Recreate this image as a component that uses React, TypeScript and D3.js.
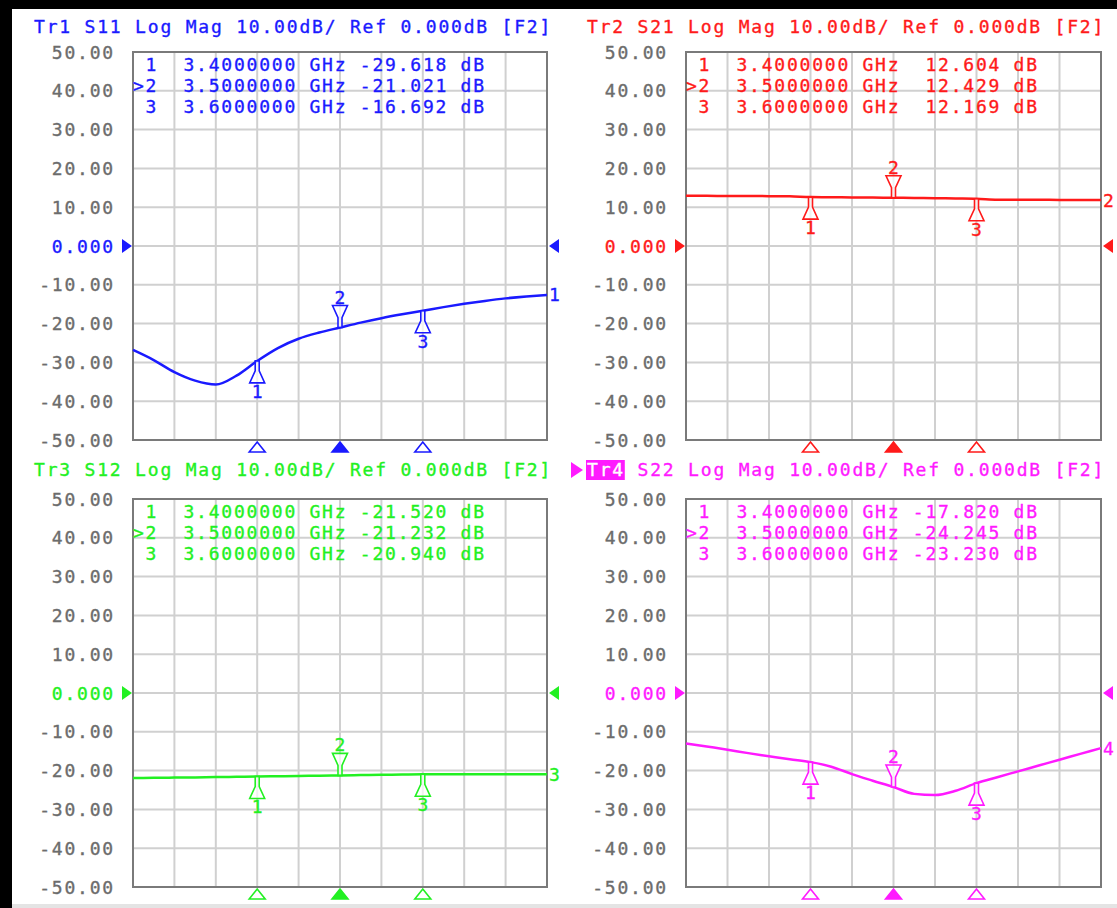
import React from 'react';
import * as d3 from 'd3';

// Sweep points (GHz) and measured traces (dB)
const FREQ_GHZ = [
  3.25, 3.275, 3.3, 3.325, 3.35, 3.375, 3.4, 3.425, 3.45, 3.475, 3.5,
  3.525, 3.55, 3.575, 3.6, 3.625, 3.65, 3.675, 3.7, 3.725, 3.75,
];
const S11_DB = [
  -26.8, -29.4, -32.5, -34.7, -35.7, -33.4, -29.618, -26.3, -23.9, -22.3, -21.021,
  -19.75, -18.6, -17.6, -16.692, -15.75, -14.9, -14.15, -13.5, -13.0, -12.6,
];
const S21_DB = [
  12.95, 12.93, 12.9, 12.88, 12.85, 12.8, 12.604, 12.56, 12.52, 12.47, 12.429,
  12.38, 12.31, 12.24, 12.169, 11.95, 11.93, 11.9, 11.88, 11.86, 11.84,
];
const S12_DB = [
  -21.9, -21.85, -21.8, -21.75, -21.68, -21.6, -21.52, -21.45, -21.38, -21.3, -21.232,
  -21.16, -21.09, -21.01, -20.94, -20.94, -20.95, -20.95, -20.95, -20.96, -20.96,
];
const S22_DB = [
  -13.0, -13.8, -14.6, -15.5, -16.3, -17.1, -17.82, -19.0, -20.9, -22.6, -24.245,
  -26.0, -26.3, -25.2, -23.23, -21.7, -20.2, -18.7, -17.2, -15.7, -14.2,
];

// Marker readouts
const MARKER_FREQ_GHZ = [3.4, 3.5, 3.6];
const S11_MARKERS = [-29.618, -21.021, -16.692];
const S21_MARKERS = [12.604, 12.429, 12.169];
const S12_MARKERS = [-21.52, -21.232, -20.94];
const S22_MARKERS = [-17.82, -24.245, -23.23];
const ACTIVE_MARKER = 2;

const Y_TICKS = [50, 40, 30, 20, 10, 0, -10, -20, -30, -40, -50];
const TRACE_NAMES = ['Tr1', 'Tr2', 'Tr3', 'Tr4'];
const PARAMS = ['S11', 'S21', 'S12', 'S22'];
const FORMAT_TEXT = 'Log Mag 10.00dB/ Ref 0.000dB [F2]';
const ACTIVE_TRACE = 'Tr4';

const SERIES = [S11_DB, S21_DB, S12_DB, S22_DB];
const MARKERS = [S11_MARKERS, S21_MARKERS, S12_MARKERS, S22_MARKERS];

// Layout and styling
const W = 1117;
const H = 908;
const FONT = '"DejaVu Sans Mono", "Liberation Mono", monospace';
const FS = 18;
const LS = 1.8;
const PITCH = 12.6;
const COLORS = ['#1a1aff', '#ff1a1a', '#22f022', '#ff1aff'];
const LABEL_GRAY = '#6c6c6c';
const GRID = '#d0d0d0';
const FRAME = '#7a7a7a';

const LAYOUT = [
  { left: 133, right: 547, top: 52, bottom: 440, headerY: 33 },
  { left: 686, right: 1101, top: 52, bottom: 440, headerY: 33 },
  { left: 133, right: 547, top: 499, bottom: 887, headerY: 476 },
  { left: 686, right: 1101, top: 499, bottom: 887, headerY: 476 },
];

const textProps = {
  fontFamily: FONT,
  fontSize: FS,
  letterSpacing: LS,
  strokeWidth: 0.35,
};

function markerPath(px: number, py: number, dir: 1 | -1) {
  const p = (dx: number, dy: number) => `${px + dx},${py + dir * dy}`;
  return `M${p(-2, 0)} L${p(-2, 10)} L${p(-7.5, 22)} L${p(7.5, 22)} L${p(2, 10)} L${p(2, 0)} Z`;
}

function Panel({ idx }: { idx: number }) {
  const L = LAYOUT[idx];
  const color = COLORS[idx];
  const values = SERIES[idx];
  const markers = MARKERS[idx];
  const name = TRACE_NAMES[idx];

  const x = d3
    .scaleLinear()
    .domain([FREQ_GHZ[0], FREQ_GHZ[FREQ_GHZ.length - 1]])
    .range([L.left, L.right]);
  const y = d3.scaleLinear().domain([-50, 50]).range([L.bottom, L.top]);

  const [f0, f1] = x.domain();
  const xGrid = d3.range(1, 10).map((i) => f0 + ((f1 - f0) * i) / 10);

  const line = d3
    .line<number>()
    .x((_, i) => x(FREQ_GHZ[i]))
    .y((d) => y(d))
    .curve(d3.curveMonotoneX);

  const y0 = y(0);
  const isActiveTrace = name === ACTIVE_TRACE;
  const headerX = L.left - 99;

  return (
    <g>
      {/* header */}
      {isActiveTrace && (
        <g>
          <polygon
            points={`${headerX - 16},${L.headerY - 14} ${headerX - 4},${L.headerY - 6} ${headerX - 16},${L.headerY + 2}`}
            fill={color}
          />
          <rect x={headerX - 1} y={L.headerY - 16} width={3 * PITCH + 1} height={20} fill={color} />
        </g>
      )}
      <text x={headerX} y={L.headerY} fill={color} stroke={color} {...textProps}>
        <tspan fill={isActiveTrace ? '#ffffff' : color} stroke={isActiveTrace ? '#ffffff' : color}>
          {name}
        </tspan>
        <tspan>{` ${PARAMS[idx]} ${FORMAT_TEXT}`}</tspan>
      </text>

      {/* grid */}
      {xGrid.map((f, i) => (
        <line key={`v${i}`} x1={x(f)} x2={x(f)} y1={L.top} y2={L.bottom} stroke={GRID} strokeWidth={2} />
      ))}
      {Y_TICKS.slice(1, -1).map((t) => (
        <line key={`h${t}`} x1={L.left} x2={L.right} y1={y(t)} y2={y(t)} stroke={GRID} strokeWidth={2} />
      ))}
      <rect
        x={L.left}
        y={L.top}
        width={L.right - L.left}
        height={L.bottom - L.top}
        fill="none"
        stroke={FRAME}
        strokeWidth={2}
      />

      {/* y labels */}
      {Y_TICKS.map((t) => (
        <text
          key={`yl${t}`}
          x={L.left - 18}
          y={y(t) + 6.5}
          textAnchor="end"
          fill={t === 0 ? color : LABEL_GRAY}
          stroke={t === 0 ? color : LABEL_GRAY}
          {...textProps}
        >
          {t === 0 ? '0.000' : t.toFixed(2)}
        </text>
      ))}

      {/* reference level arrows */}
      <polygon
        points={`${L.left - 11},${y0 - 7} ${L.left - 1},${y0} ${L.left - 11},${y0 + 7}`}
        fill={color}
      />
      <polygon
        points={`${L.right + 12},${y0 - 7} ${L.right + 2},${y0} ${L.right + 12},${y0 + 7}`}
        fill={color}
      />

      {/* marker table */}
      {MARKER_FREQ_GHZ.map((f, i) => {
        const num = i + 1;
        const by = L.top + 19 + i * 21;
        const val = markers[i].toFixed(3);
        const col = (c: number) => L.left + c * PITCH;
        return (
          <g key={`row${i}`} fill={color} stroke={color} {...textProps}>
            {num === ACTIVE_MARKER && (
              <text x={col(0)} y={by}>
                {'>'}
              </text>
            )}
            <text x={col(1)} y={by}>
              {String(num)}
            </text>
            <text x={col(4)} y={by}>
              {f.toFixed(7)}
            </text>
            <text x={col(14)} y={by}>
              GHz
            </text>
            <text x={col(18 + (7 - val.length))} y={by}>
              {val}
            </text>
            <text x={col(26)} y={by}>
              dB
            </text>
          </g>
        );
      })}

      {/* trace */}
      <path d={line(values) ?? ''} fill="none" stroke={color} strokeWidth={2.5} />
      <text
        x={L.right + 2}
        y={y(values[values.length - 1]) + 6.5}
        fill={color}
        stroke={color}
        {...textProps}
      >
        {String(idx + 1)}
      </text>

      {/* markers on trace */}
      {MARKER_FREQ_GHZ.map((f, i) => {
        const num = i + 1;
        const px = x(f);
        const py = y(markers[i]);
        const above = num === ACTIVE_MARKER;
        const dir = above ? -1 : 1;
        return (
          <g key={`mk${i}`}>
            <path d={markerPath(px, py, dir)} fill="#ffffff" fillOpacity={0.7} stroke={color} strokeWidth={1.6} />
            <text
              x={px}
              y={above ? py - 24 : py + 37}
              textAnchor="middle"
              fill={color}
              stroke={color}
              strokeWidth={0.35}
              fontFamily={FONT}
              fontSize={FS}
            >
              {String(num)}
            </text>
          </g>
        );
      })}

      {/* stimulus markers under the grid */}
      {MARKER_FREQ_GHZ.map((f, i) => {
        const px = x(f);
        const active = i + 1 === ACTIVE_MARKER;
        return (
          <polygon
            key={`sm${i}`}
            points={`${px - 8},${L.bottom + 12} ${px},${L.bottom + 2} ${px + 8},${L.bottom + 12}`}
            fill={active ? color : '#ffffff'}
            stroke={color}
            strokeWidth={1.6}
          />
        );
      })}
    </g>
  );
}

export default function App() {
  return (
    <svg
      width={W}
      height={H}
      viewBox={`0 0 ${W} ${H}`}
      style={{ position: 'absolute', left: 0, top: 0, background: '#ffffff' }}
    >
      <rect x={0} y={0} width={W} height={H} fill="#ffffff" />
      {LAYOUT.map((_, i) => (
        <Panel key={i} idx={i} />
      ))}
      <rect x={12} y={904} width={W - 12} height={4} fill="#e4e4e4" />
      <rect x={0} y={0} width={W} height={9} fill="#000000" />
      <rect x={0} y={0} width={12} height={H} fill="#000000" />
    </svg>
  );
}
